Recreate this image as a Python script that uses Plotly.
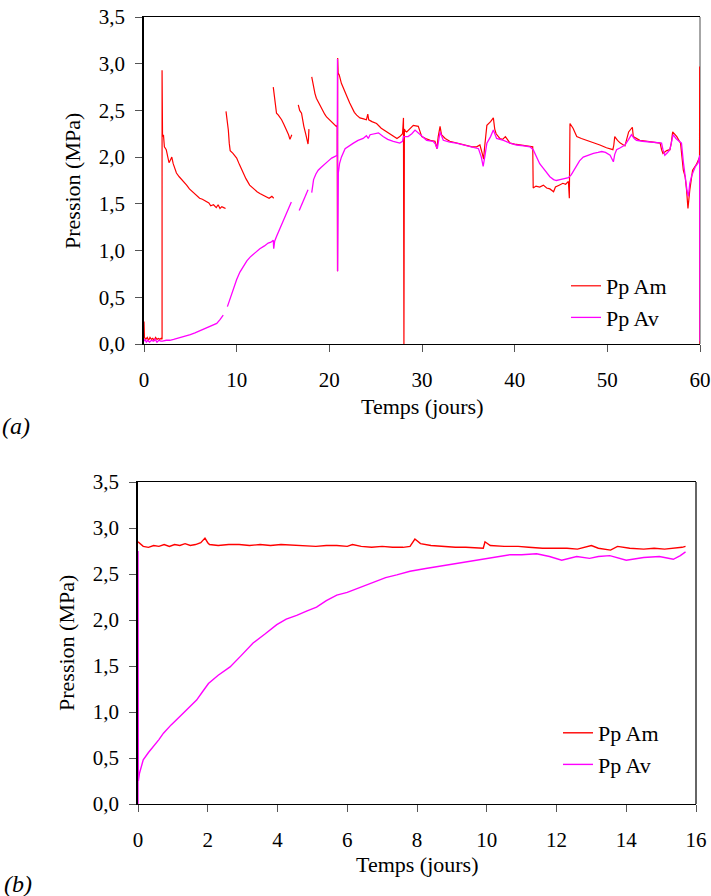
import plotly.graph_objects as go

# ---------------- (a) data ----------------
a_am_t = [0, 0, 0.05, 0.2, 0.35, 0.5, 0.65, 0.8, 0.95, 1.1, 1.25, 1.4, 1.55, 1.7, 1.85, 1.95, 1.95,
          2.0, 2.1, 2.2, 2.4, 2.55, 2.7, 2.85, 3.0, 3.15, 3.3, 3.5, 3.8, 4.1, 4.4, 4.6, 4.9, 5.3, 5.6, 6.0,
          6.3, 6.6, 7.0, 7.2, 7.5, 7.8, 8.0, 8.2, 8.4, 8.6, 8.8, None,
          8.85, 8.95, 9.1, 9.2, 9.3, 9.6, 10.0, 10.3, 10.7, 11.0, 11.4, 11.8, 12.2, 12.5, 12.9, 13.2, 13.5,
          13.8, 14.0, None,
          13.95, 14.05, 14.15, 14.3, 14.5, 14.85, 15.1, 15.4, 15.6, 15.75, 15.85, 15.95, None,
          16.65, 16.8, 17.0, 17.1, 17.25, 17.45, 17.6, 17.7, 17.75, 17.8, None,
          18.1, 18.2, 18.3, 18.45, 18.6, 18.9, 19.2, 19.5, 19.7, 20.0, 20.25, 20.5, 20.75, 20.85, 20.88,
          20.9, 20.95, 21.07, 21.3, 21.6, 21.9, 22.2, 22.4, 22.7, 22.95, 23.3, 23.7, 24.0, 24.15, 24.25,
          24.6, 25.1, 25.6, 26.2, 26.7, 27.3, 27.6, 27.9, 28.0, 28.05, 28.1, 28.2, 28.35, 28.7, 29.06,
          29.6, 29.8, 29.97, 30.4, 30.9, 31.4, 31.6, 31.75, 31.95, 32.1, 32.5, 33.0, 33.9, 34.8, 35.4,
          35.9, 36.25, 36.5, 36.65, 36.75, 37.0, 37.4, 37.7, 37.85, 38.0, 38.4, 38.7, 39.0, 39.5, 40.0,
          40.6, 41.2, 41.65, 41.95, 42.0, 42.3, 42.7, 43.1, 43.45, 43.8, 44.2, 44.4, 44.8, 45.2, 45.5,
          45.8, 45.9, 45.97, 46.3, 46.7, 47.2, 47.8, 48.5, 49.2, 49.9, 50.6, 50.7, 50.8, 51.1, 51.4,
          51.9, 52.1, 52.3, 52.7, 52.8, 53.5, 54.2, 55.0, 55.7, 55.85, 56.0, 56.4, 56.75, 56.9, 57.05,
          57.5, 57.9, 58.2, 58.4, 58.55, 58.7, 58.9, 59.2, 59.6, 59.95, 59.97, 60.0]
a_am_v = [0.06, 0.24, 0.07, 0.05, 0.07, 0.04, 0.07, 0.05, 0.06, 0.04, 0.07, 0.05, 0.06, 0.05, 0.06, 0.05, 2.93,
          2.22, 2.24, 2.11, 2.08, 2.00, 1.94, 1.97, 2.00, 1.93, 1.88, 1.83, 1.79, 1.76, 1.72, 1.70, 1.66, 1.62, 1.60, 1.56,
          1.55, 1.53, 1.51, 1.48, 1.49, 1.46, 1.49, 1.45, 1.47, 1.46, 1.45, None,
          2.49, 2.42, 2.29, 2.15, 2.07, 2.04, 1.99, 1.92, 1.83, 1.77, 1.70, 1.66, 1.63, 1.61, 1.59, 1.58, 1.56,
          1.58, 1.56, None,
          2.75, 2.66, 2.58, 2.47, 2.45, 2.40, 2.35, 2.29, 2.24, 2.19, 2.23, 2.24, None,
          2.56, 2.50, 2.47, 2.40, 2.33, 2.25, 2.18, 2.14, 2.20, 2.30, None,
          2.86, 2.80, 2.75, 2.68, 2.63, 2.57, 2.52, 2.46, 2.43, 2.40, 2.38, 2.36, 2.33, 2.34, 0.78,
          3.06, 2.90, 2.88, 2.79, 2.71, 2.65, 2.58, 2.54, 2.48, 2.45, 2.42, 2.41, 2.40, 2.46, 2.40,
          2.38, 2.36, 2.31, 2.27, 2.24, 2.20, 2.22, 2.25, 2.42, 0.00, 2.30, 2.28, 2.27, 2.31, 2.34,
          2.33, 2.28, 2.22, 2.20, 2.18, 2.17, 2.09, 2.22, 2.33, 2.24, 2.20, 2.17, 2.15, 2.13, 2.11,
          2.11, 2.13, 2.04, 1.98, 2.10, 2.34, 2.38, 2.42, 2.30, 2.25, 2.20, 2.19, 2.22, 2.15, 2.14,
          2.13, 2.12, 2.12, 2.11, 1.67, 1.69, 1.68, 1.70, 1.67, 1.66, 1.63, 1.68, 1.70, 1.72, 1.71,
          1.74, 1.56, 2.36, 2.31, 2.22, 2.20, 2.18, 2.15, 2.13, 2.10, 2.08, 2.13, 2.22, 2.18, 2.15,
          2.12, 2.20, 2.27, 2.32, 2.22, 2.18, 2.17, 2.16, 2.15, 2.08, 2.04, 2.07, 2.08, 2.15, 2.27,
          2.22, 2.15, 1.86, 1.79, 1.65, 1.45, 1.65, 1.86, 1.92, 2.00, 2.97, 0.00]

a_av_t = [0, 0.1, 0.25, 0.4, 0.6, 0.8, 1.0, 1.2, 1.4, 1.6, 1.8, 2.0, 2.4, 2.8, 3.2, 3.6, 4.0, 4.5, 5.0,
          5.5, 6.0, 6.4, 6.8, 7.3, 7.85, 8.2, 8.55, None,
          9.0, 9.2, 9.45, 9.7, 10.0, 10.35, 10.7, 11.1, 11.45, 12.0, 12.5, 13.0, 13.4, 13.7, 13.95, 14.0,
          14.1, 14.3, 14.6, 14.85, 15.1, 15.4, 15.65, 15.9, None,
          16.75, 17.0, 17.2, 17.45, 17.7, None,
          18.1, 18.3, 18.55, 18.8, 19.1, 19.5, 19.9, 20.25, 20.6, 20.85, 20.88, 20.9, 20.97, 21.1, 21.3,
          21.7, 22.1, 22.6, 23.1, 23.65, 24.0, 24.2, 24.4, 24.9, 25.3, 25.8, 26.3, 26.9, 27.6, 27.9,
          28.0, 28.5, 28.9, 29.25, 29.5, 29.8, 30.5, 31.2, 31.45, 31.65, 31.8, 31.95, 32.3, 33.0, 33.7,
          34.5, 35.2, 35.7, 36.1, 36.4, 36.6, 36.8, 37.0, 37.4, 37.7, 38.05, 38.4, 38.8, 39.5, 40.2,
          41.0, 41.65, 42.0, 42.4, 42.7, 43.1, 43.45, 43.8, 44.2, 44.5, 44.9, 45.3, 45.8, 46.1, 46.4,
          46.7, 47.0, 47.4, 47.9, 48.5, 49.0, 49.4, 49.8, 50.3, 50.5, 50.65, 50.8, 51.0, 51.4, 51.9,
          52.3, 52.6, 52.9, 53.15, 53.8, 54.6, 55.3, 55.85, 56.0, 56.2, 56.5, 56.75, 56.9, 57.1, 57.4,
          57.65, 58.0, 58.2, 58.4, 58.6, 58.75, 58.9, 59.1, 59.3, 59.5, 59.8, 59.97, 60.0]
a_av_v = [0.03, 0.05, 0.02, 0.04, 0.02, 0.04, 0.03, 0.05, 0.02, 0.04, 0.03, 0.03, 0.04, 0.04, 0.05, 0.06, 0.07, 0.08, 0.10,
          0.12, 0.14, 0.16, 0.17, 0.19, 0.22, 0.26, 0.31, None,
          0.40, 0.46, 0.54, 0.62, 0.69, 0.77, 0.83, 0.89, 0.93, 0.98, 1.02, 1.05, 1.08, 1.09, 1.11, 1.02,
          1.10, 1.15, 1.22, 1.29, 1.35, 1.42, 1.47, 1.52, None,
          1.43, 1.49, 1.54, 1.60, 1.65, None,
          1.62, 1.76, 1.82, 1.86, 1.89, 1.93, 1.96, 1.99, 2.01, 2.02, 3.05, 0.78, 1.83, 1.93, 2.00,
          2.09, 2.12, 2.15, 2.18, 2.20, 2.23, 2.20, 2.24, 2.25, 2.26, 2.22, 2.19, 2.17, 2.15, 2.17,
          2.22, 2.22, 2.25, 2.29, 2.27, 2.24, 2.18, 2.17, 2.14, 2.09, 2.18, 2.27, 2.18, 2.16, 2.15,
          2.13, 2.11, 2.10, 2.09, 2.00, 1.90, 2.02, 2.15, 2.22, 2.29, 2.20, 2.19, 2.18, 2.15, 2.13,
          2.12, 2.11, 2.08, 1.99, 1.93, 1.88, 1.83, 1.79, 1.76, 1.75, 1.76, 1.77, 1.78, 1.81, 1.86,
          1.92, 1.96, 2.00, 2.02, 2.04, 2.05, 2.06, 2.05, 2.02, 1.98, 1.95, 2.03, 2.08, 2.10, 2.13,
          2.19, 2.24, 2.20, 2.18, 2.17, 2.16, 2.15, 2.15, 2.08, 2.02, 2.05, 2.08, 2.15, 2.24, 2.20,
          2.18, 2.15, 1.95, 1.76, 1.64, 1.58, 1.72, 1.80, 1.86, 1.90, 1.94, 2.02, 0.03]

# ---------------- (b) data ----------------
b_am_t = [0, 0.05, 0.15, 0.3, 0.45, 0.6, 0.75, 0.9, 1.05, 1.2, 1.35, 1.5, 1.65, 1.8, 1.92, 2.0, 2.05,
          2.3, 2.6, 2.9, 3.2, 3.5, 3.8, 4.1, 4.5, 4.8, 5.1, 5.4, 5.7, 6.0, 6.15, 6.4, 6.7, 7.0, 7.3,
          7.6, 7.8, 7.94, 8.1, 8.4, 8.75, 9.1, 9.4, 9.7, 9.9, 9.95, 10.1, 10.5, 10.9, 11.2, 11.6, 12.0,
          12.3, 12.6, 12.85, 13.0, 13.2, 13.55, 13.75, 14.1, 14.5, 14.8, 15.1, 15.45, 15.6, 15.7]
b_am_v = [2.85, 2.83, 2.80, 2.79, 2.81, 2.80, 2.82, 2.80, 2.82, 2.81, 2.83, 2.81, 2.82, 2.84, 2.89, 2.84, 2.82,
          2.81, 2.82, 2.82, 2.81, 2.82, 2.81, 2.82, 2.81, 2.81, 2.80, 2.81, 2.81, 2.80, 2.82, 2.80, 2.79, 2.80, 2.79,
          2.79, 2.80, 2.88, 2.83, 2.81, 2.80, 2.79, 2.79, 2.78, 2.78, 2.85, 2.81, 2.80, 2.80, 2.79, 2.78, 2.78,
          2.78, 2.77, 2.79, 2.81, 2.78, 2.76, 2.80, 2.78, 2.77, 2.78, 2.77, 2.78, 2.79, 2.80]

b_av_t = [0, 0, 0.01, 0.04, 0.15, 0.3, 0.44, 0.6, 0.73, 0.95, 1.2, 1.45, 1.68, 1.85, 2.02, 2.3, 2.64,
          2.95, 3.3, 3.65, 3.98, 4.25, 4.55, 4.85, 5.12, 5.4, 5.7, 6.0, 6.27, 6.55, 6.85, 7.1, 7.42,
          7.8, 8.25, 8.75, 9.2, 9.7, 10.2, 10.67, 11.0, 11.43, 11.8, 12.15, 12.58, 12.95, 13.2, 13.53,
          14.0, 14.5, 14.95, 15.35, 15.55, 15.7]
b_av_v = [0.0, 2.75, 0.25, 0.33, 0.48, 0.56, 0.62, 0.70, 0.77, 0.86, 0.95, 1.04, 1.13, 1.22, 1.31, 1.40, 1.49,
          1.61, 1.75, 1.85, 1.95, 2.01, 2.05, 2.10, 2.14, 2.21, 2.27, 2.30, 2.34, 2.38, 2.43, 2.46, 2.49,
          2.53, 2.56, 2.59, 2.62, 2.65, 2.68, 2.71, 2.71, 2.72, 2.69, 2.65, 2.69, 2.67, 2.69, 2.70,
          2.65, 2.68, 2.69, 2.66, 2.70, 2.74]

series_names = ["Pp Am", "Pp Av"]
y_ticks = [0, 0.5, 1.0, 1.5, 2.0, 2.5, 3.0, 3.5]
a_x_ticks = [0, 10, 20, 30, 40, 50, 60]
b_x_ticks = [0, 2, 4, 6, 8, 10, 12, 14, 16]

RED = "#FF0000"
MAG = "#FF00FF"
SERIF = "Liberation Serif"

fig = go.Figure()
fig.add_trace(go.Scatter(x=a_am_t, y=a_am_v, mode="lines", name=series_names[0],
                         line=dict(color=RED, width=1.2), xaxis="x", yaxis="y",
                         legend="legend", legendgroup="a1", connectgaps=False))
fig.add_trace(go.Scatter(x=a_av_t, y=a_av_v, mode="lines", name=series_names[1],
                         line=dict(color=MAG, width=1.3), xaxis="x", yaxis="y",
                         legend="legend", legendgroup="a2", connectgaps=False))
fig.add_trace(go.Scatter(x=b_am_t, y=b_am_v, mode="lines", name=series_names[0],
                         line=dict(color=RED, width=1.4), xaxis="x2", yaxis="y2",
                         legend="legend2", legendgroup="b1"))
fig.add_trace(go.Scatter(x=b_av_t, y=b_av_v, mode="lines", name=series_names[1],
                         line=dict(color=MAG, width=1.4), xaxis="x2", yaxis="y2",
                         legend="legend2", legendgroup="b2"))

W, H = 711, 896
def px_x(p): return p / W
def px_y(p): return 1 - p / H

tickfont = dict(family=SERIF, size=21, color="black")
common_y = dict(range=[0, 3.5], tickvals=y_ticks, tickformat=".1f", showline=True, linecolor="black",
                linewidth=1.5, ticks="outside", ticklen=7, tickcolor="#555", tickwidth=1,
                showgrid=False, zeroline=False, tickfont=tickfont, ticklabelstandoff=6)
common_x = dict(showline=True, linecolor="black", linewidth=1.3, mirror=True, ticks="outside",
                ticklen=7, tickcolor="#555", tickwidth=1, showgrid=False, zeroline=False,
                tickfont=tickfont, ticklabelstandoff=10)

def label(text, x, y, size=22, angle=0, xanchor="center"):
    return dict(text=text, xref="paper", yref="paper", x=px_x(x), y=px_y(y),
                xanchor=xanchor, yanchor="middle", showarrow=False, textangle=angle,
                font=dict(family=SERIF, size=size, color="black"))

fig.update_layout(
    width=W, height=H, margin=dict(l=0, r=0, t=0, b=0, autoexpand=False),
    paper_bgcolor="white", plot_bgcolor="white", separators=", ",
    font=dict(family=SERIF, color="black"),
    xaxis=dict(domain=[px_x(144), px_x(700)], range=[0, 60], tickvals=a_x_ticks, anchor="y", **common_x),
    yaxis=dict(domain=[px_y(344), px_y(17)], anchor="x", **common_y),
    xaxis2=dict(domain=[px_x(138), px_x(696)], range=[0, 16], tickvals=b_x_ticks, anchor="y2", **common_x),
    yaxis2=dict(domain=[px_y(804), px_y(482)], anchor="x2", **common_y),
    legend=dict(x=px_x(566), y=px_y(265), xanchor="left", yanchor="top", bgcolor="rgba(0,0,0,0)",
                font=dict(family=SERIF, size=22, color="black"), tracegroupgap=0, itemwidth=30),
    legend2=dict(x=px_x(558), y=px_y(712), xanchor="left", yanchor="top", bgcolor="rgba(0,0,0,0)",
                 font=dict(family=SERIF, size=22, color="black"), tracegroupgap=0, itemwidth=30),
    shapes=[
        dict(type="line", xref="x domain", yref="y domain", x0=1, x1=1, y0=0, y1=1,
             line=dict(color="#888888", width=1.5), layer="below"),
        dict(type="line", xref="x2 domain", yref="y2 domain", x0=1, x1=1, y0=0, y1=1,
             line=dict(color="#333333", width=1.5), layer="below"),
    ],
    annotations=[
        label("Temps (jours)", 422, 406),
        label("Pression (MPa)", 72, 181, angle=-90),
        label("<i>(a)</i>", 0, 426, size=24, xanchor="left"),
        label("Temps (jours)", 417, 864),
        label("Pression (MPa)", 66, 643, angle=-90),
        label("<i>(b)</i>", 2, 884, size=24, xanchor="left"),
    ],
)

fig.write_html("out.html", config={"displayModeBar": False},
               post_script="document.body.style.margin='0';document.body.style.overflow='hidden';")
